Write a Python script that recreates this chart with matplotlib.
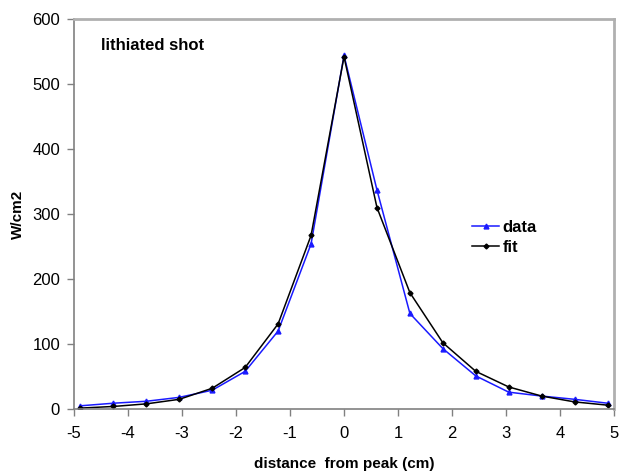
import matplotlib.pyplot as plt
import numpy as np

plt.rcParams['font.family'] = ['Liberation Sans', 'DejaVu Sans']
plt.rcParams['axes.unicode_minus'] = False

# distance from peak (cm)
x = [-4.88, -4.27, -3.66, -3.05, -2.44, -1.83, -1.22, -0.61, 0.0,
     0.61, 1.22, 1.83, 2.44, 3.05, 3.66, 4.27, 4.88]
# measured W/cm2
data = [5, 9, 12, 18, 29, 58, 120, 254, 544,
        337, 147, 93, 51, 26, 20, 15, 9]
# fitted W/cm2
fit = [1.5, 4, 8, 15, 32, 64, 131, 267, 542,
       310, 179, 102, 58, 34, 20, 11, 6]

fig = plt.figure(figsize=(6.19, 4.74), dpi=100)
ax = fig.add_axes([0.1195, 0.137, 0.8725, 0.823])

ax.plot(x, data, color='#1a1aff', lw=1.1, marker='^', ms=3.5, label='data')
ax.plot(x, fit, color='black', lw=1.1, marker='D', ms=2.5, label='fit')

ax.set_xlim(-5, 5)
ax.set_ylim(0, 600)
ax.set_xticks(np.arange(-5, 6, 1))
ax.set_yticks(np.arange(0, 601, 100))
ax.tick_params(direction='out', length=5, width=1, color='#808080',
               labelsize=12)
ax.tick_params(axis='x', pad=7)
ax.tick_params(axis='y', pad=5)

for s in ['left', 'bottom']:
    ax.spines[s].set_color('#808080')
    ax.spines[s].set_linewidth(1.2)
for s in ['top', 'right']:
    ax.spines[s].set_color('#b0b0b0')
    ax.spines[s].set_linewidth(2)

ax.set_xlabel('distance  from peak (cm)', fontsize=11, fontweight='bold', labelpad=12)
ax.set_ylabel('W/cm2', fontsize=11, fontweight='bold', labelpad=5)
ax.text(0.05, 0.932, 'lithiated shot', transform=ax.transAxes,
        fontsize=12, fontweight='bold', va='center')

ax.legend(loc='center left', bbox_to_anchor=(0.71, 0.44), frameon=False,
          handlelength=1.6, handletextpad=0.2, labelspacing=0.3,
          prop={'weight': 'bold', 'size': 12})

plt.savefig('out.png')
